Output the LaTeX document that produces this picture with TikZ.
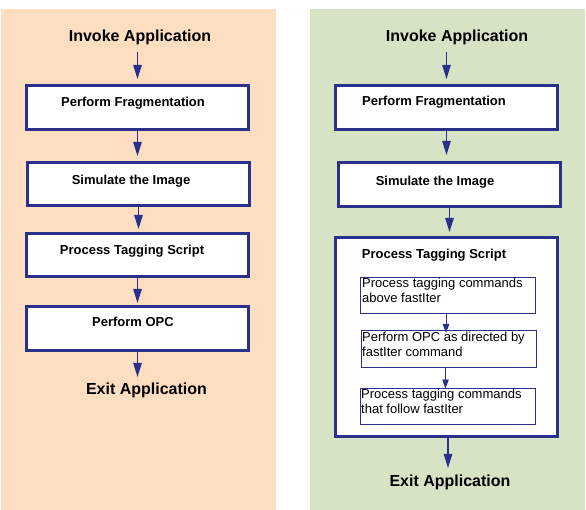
\documentclass[tikz,border=0pt]{standalone}
\usepackage{fontspec}
\setmainfont{Liberation Sans}
\usetikzlibrary{arrows.meta}
\definecolor{peach}{RGB}{253,222,192}
\definecolor{sage}{RGB}{214,227,197}
\definecolor{navy}{RGB}{43,48,140}
\tikzset{
  panel/.style={draw=none},
  bigbox/.style={draw=navy, line width=2.7pt, fill=white, minimum width=222pt, inner sep=0pt},
  smallbox/.style={draw=navy, line width=1pt, fill=white, minimum width=175pt, minimum height=36pt, inner sep=0pt},
  headtext/.style={font=\bfseries\fontsize{16}{19}\selectfont, inner sep=0pt, anchor=base},
  boxtext/.style={font=\bfseries\fontsize{13}{15}\selectfont, inner sep=0pt, anchor=base},
  innertext/.style={font=\fontsize{13}{14.5}\selectfont, inner sep=0pt, anchor=north west, align=left},
  arr/.style={draw=navy, line width=1.1pt, -{Triangle[length=14pt,width=8.5pt]}},
  iarr/.style={draw=navy, line width=0.9pt, -{Triangle[length=9pt,width=6.5pt]}},
}
\begin{document}
\begin{tikzpicture}[x=1pt,y=-1pt]
\useasboundingbox (0,0) rectangle (586,510);
\fill[peach] (1,9) rectangle (276,510);
\fill[sage] (310,9) rectangle (585,510);

% ---------- left flow ----------
\node[headtext] (LInv) at (140,41.7) {Invoke Application};
\node[bigbox, minimum height=44.3pt] (L1) at (137.5,107.5) {};
\node[bigbox, minimum height=43.3pt] (L2) at (138.5,184) {};
\node[bigbox, minimum height=43.3pt] (L3) at (137.5,255) {};
\node[bigbox, minimum height=44.3pt] (L4) at (137.5,328.5) {};
\node[boxtext] (L1t) at (133,106.7) {Perform Fragmentation};
\node[boxtext] (L2t) at (131,184.7) {Simulate the Image};
\node[boxtext] (L3t) at (132,254.7) {Process Tagging Script};
\node[boxtext] (L4t) at (133,326.7) {Perform OPC};
\node[headtext] (LExit) at (146.5,394.7) {Exit Application};

\draw[arr, shorten >=5pt] ([yshift=-7pt]L1.north |- LInv.south) -- (L1.north);
\draw[arr, shorten >=5pt] (L1.south) -- (L1.south |- L2.north);
\draw[arr, shorten >=3pt] (L2.south) -- (L2.south |- L3.north);
\draw[arr, shorten >=2pt] (L3.south) -- (L3.south |- L4.north);
\draw[arr, shorten >=6pt] (L4.south) -- (L4.south |- LExit.north);

% ---------- right flow ----------
\node[headtext] (RInv) at (457,41.7) {Invoke Application};
\node[bigbox, minimum height=44.3pt] (R1) at (446.5,107.5) {};
\node[bigbox, minimum height=44.3pt] (R2) at (449.5,184.5) {};
\node[bigbox, minimum height=199.3pt] (R3) at (446.5,337) {};
\node[boxtext] (R1t) at (434,105.7) {Perform Fragmentation};
\node[boxtext] (R2t) at (435,185.7) {Simulate the Image};
\node[boxtext] (R3t) at (434,258.7) {Process Tagging Script};
\node[smallbox] (Ra) at (448,295.5) {};
\node[smallbox, minimum height=37pt] (Rb) at (448.5,349) {};
\node[smallbox] (Rc) at (447.5,406) {};
\node[innertext] (Rat) at (362,278.3) {Process tagging commands\\above fastIter};
\node[innertext] (Rbt) at (362,332.3) {Perform OPC as directed by\\fastIter command};
\node[innertext] (Rct) at (361,389.3) {Process tagging commands\\that follow fastIter};
\node[headtext] (RExit) at (450,486.7) {Exit Application};

\draw[arr, shorten >=5pt] ([yshift=-7pt]R1.north |- RInv.south) -- (R1.north);
\draw[arr, shorten >=6pt] (R1.south) -- (R1.south |- R2.north);
\draw[arr, shorten >=4pt] (R2.south) -- (R2.south |- R3.north);
\draw[iarr, shorten >=-3pt] ([xshift=-2pt]Ra.south) -- ([xshift=-2pt]Ra.south |- Rb.north);
\draw[iarr, shorten >=-1pt] ([xshift=-3pt]Rb.south) -- ([xshift=-3pt]Rb.south |- Rc.north);
\draw[arr, shorten >=7pt] ([xshift=1.5pt]R3.south) -- ([xshift=1.5pt]R3.south |- RExit.north);
\end{tikzpicture}
\end{document}
